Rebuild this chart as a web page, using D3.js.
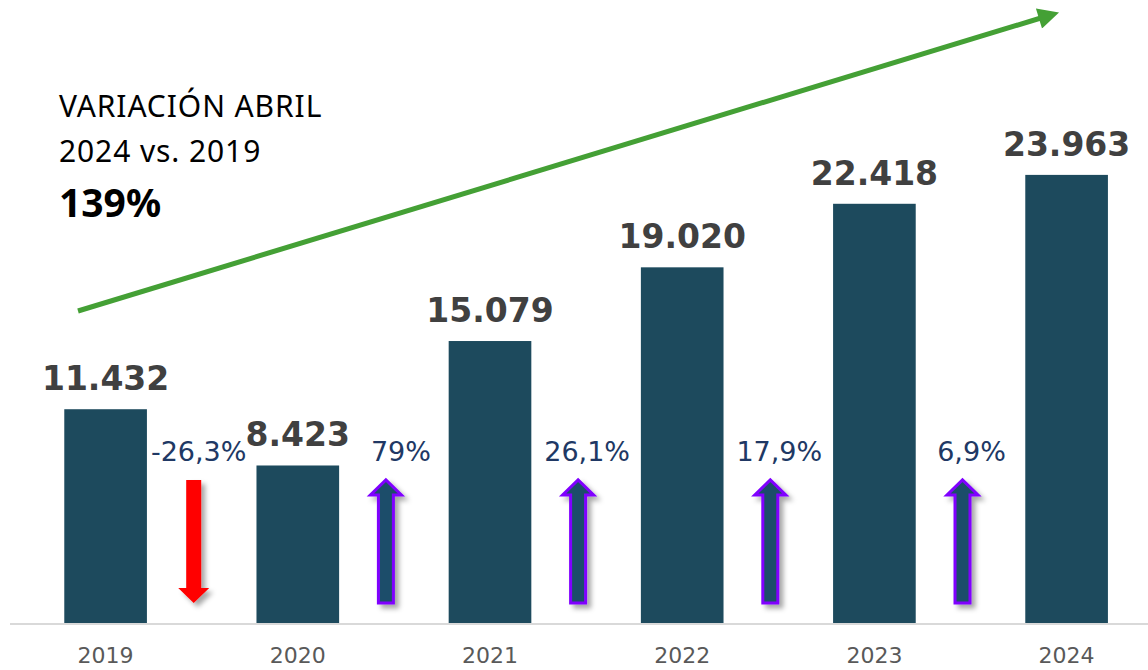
<!DOCTYPE html>
<html>
<head>
<meta charset="utf-8">
<script src="https://cdn.jsdelivr.net/npm/d3@7"></script>
<style>
  body { margin: 0; background: #fff; }
  svg { display: block; }
</style>
</head>
<body>
<div id="chart"></div>
<script>
// data
const years = ["2019", "2020", "2021", "2022", "2023", "2024"];
const values = [11432, 8423, 15079, 19020, 22418, 23963];
const variations = ["-26,3%", "79%", "26,1%", "17,9%", "6,9%"];
const titleLines = ["VARIACIÓN ABRIL", "2024 vs. 2019"];
const totalChange = "139%";

const width = 1148, height = 670;
const baseY = 623;

const fmt = v => d3.format(",")(v).replace(/,/g, ".");

const svg = d3.select("#chart").append("svg")
    .attr("width", width)
    .attr("height", height);

const defs = svg.append("defs");
const shadow = defs.append("filter").attr("id", "shadow")
    .attr("x", "-50%").attr("y", "-20%").attr("width", "200%").attr("height", "150%");
shadow.append("feDropShadow")
    .attr("dx", 4).attr("dy", 4).attr("stdDeviation", 2.5)
    .attr("flood-color", "#000").attr("flood-opacity", 0.35);

defs.append("marker")
    .attr("id", "greenHead")
    .attr("viewBox", "0 0 10 10")
    .attr("refX", 5).attr("refY", 5)
    .attr("markerWidth", 4.4).attr("markerHeight", 4.2)
    .attr("orient", "auto")
    .attr("markerUnits", "strokeWidth")
  .append("path")
    .attr("d", "M0,0 L10,5 L0,10 Z")
    .attr("fill", "#44a035");

const x = d3.scaleBand()
    .domain(years)
    .range([9.5, 1162.7])
    .paddingInner(0.57)
    .paddingOuter(0.285);

const y = d3.scaleLinear()
    .domain([0, 25000])
    .range([baseY, baseY - 467.5]);

// axis line
svg.append("line")
    .attr("x1", 10).attr("x2", width)
    .attr("y1", baseY + 1).attr("y2", baseY + 1)
    .attr("stroke", "#d9d9d9").attr("stroke-width", 2);

// bars
svg.selectAll("rect.bar")
    .data(values)
    .join("rect")
    .attr("class", "bar")
    .attr("x", (d, i) => x(years[i]))
    .attr("y", d => y(d))
    .attr("width", x.bandwidth())
    .attr("height", d => y(0) - y(d))
    .attr("fill", "#1d4a5d");

// value labels
svg.selectAll("text.val")
    .data(values)
    .join("text")
    .attr("class", "val")
    .attr("x", (d, i) => x(years[i]) + x.bandwidth() / 2)
    .attr("y", d => y(d) - 19)
    .attr("text-anchor", "middle")
    .attr("font-family", "DejaVu Sans, Verdana, sans-serif")
    .attr("font-weight", "bold")
    .attr("font-size", 33)
    .attr("fill", "#404040")
    .text(d => fmt(d));

// year labels
svg.selectAll("text.year")
    .data(years)
    .join("text")
    .attr("class", "year")
    .attr("x", d => x(d) + x.bandwidth() / 2)
    .attr("y", 663)
    .attr("text-anchor", "middle")
    .attr("font-family", "DejaVu Sans, Verdana, sans-serif")
    .attr("font-size", 22)
    .attr("fill", "#595959")
    .text(d => d);

// variation labels and arrows between bars
const gapMid = i => (x(years[i]) + x.bandwidth() + x(years[i + 1])) / 2;

svg.selectAll("text.var")
    .data(variations)
    .join("text")
    .attr("class", "var")
    .attr("x", (d, i) => gapMid(i) + (i === 0 ? -3 : i === 1 ? 7 : 1))
    .attr("y", 461)
    .attr("text-anchor", "middle")
    .attr("font-family", "DejaVu Sans, Verdana, sans-serif")
    .attr("font-size", 27)
    .attr("fill", "#203864")
    .text(d => d);

const arrowTop = y(7650), arrowBottom = y(1070);
const shaftW = 15, headW = 31, headH = 15;

svg.selectAll("path.varArrow")
    .data(variations)
    .join("path")
    .attr("class", "varArrow")
    .attr("filter", "url(#shadow)")
    .attr("d", (d, i) => {
      const cx = gapMid(i) - 8;
      const down = d.startsWith("-");
      const sw = shaftW / 2, hw = headW / 2;
      if (down) {
        return `M${cx - sw},${arrowTop} L${cx + sw},${arrowTop} L${cx + sw},${arrowBottom - headH}
                L${cx + hw},${arrowBottom - headH} L${cx},${arrowBottom} L${cx - hw},${arrowBottom - headH}
                L${cx - sw},${arrowBottom - headH} Z`;
      }
      return `M${cx - sw},${arrowBottom} L${cx + sw},${arrowBottom} L${cx + sw},${arrowTop + headH}
              L${cx + hw},${arrowTop + headH} L${cx},${arrowTop} L${cx - hw},${arrowTop + headH}
              L${cx - sw},${arrowTop + headH} Z`;
    })
    .attr("fill", d => d.startsWith("-") ? "#ff0000" : "#1f4e6b")
    .attr("stroke", d => d.startsWith("-") ? "none" : "#8000ff")
    .attr("stroke-width", 3)
    .attr("stroke-linejoin", "miter");

// green trend arrow
svg.append("line")
    .attr("x1", 78).attr("y1", 311)
    .attr("x2", 1049).attr("y2", 15.5)
    .attr("stroke", "#44a035")
    .attr("stroke-width", 5)
    .attr("marker-end", "url(#greenHead)");

// title block
const title = svg.append("g")
    .attr("font-family", "Noto Sans, Open Sans, sans-serif")
    .attr("fill", "#000");

title.selectAll("text.tl")
    .data(titleLines)
    .join("text")
    .attr("class", "tl")
    .attr("x", 59)
    .attr("y", (d, i) => 117 + i * 45)
    .attr("font-size", 30)
    .attr("letter-spacing", 0.9)
    .text(d => d);

title.append("text")
    .attr("x", 59)
    .attr("y", 217)
    .attr("font-size", 39)
    .attr("font-weight", "bold")
    .text(totalChange);
</script>
</body>
</html>
